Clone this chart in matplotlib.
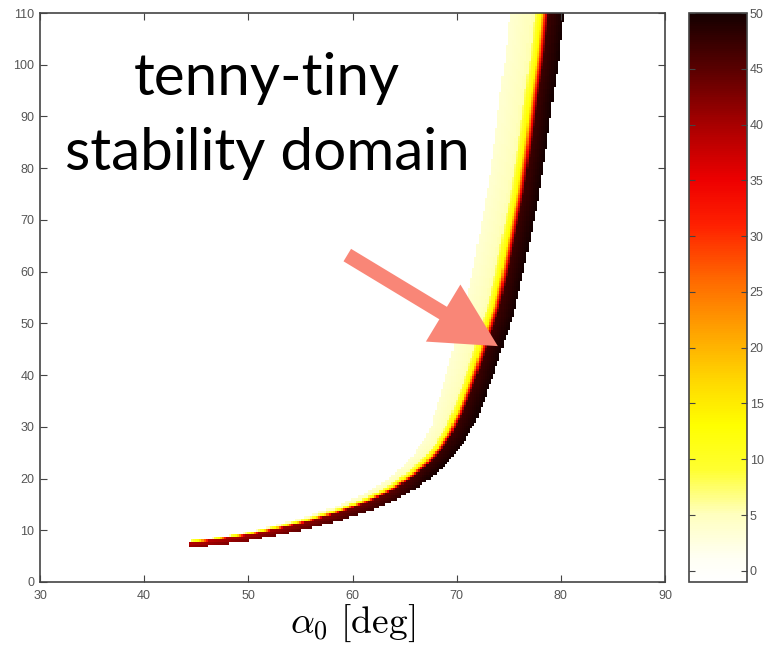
import matplotlib
matplotlib.use("Agg")
import matplotlib.pyplot as plt
import numpy as np
from matplotlib.colors import LinearSegmentedColormap
from matplotlib.patches import FancyArrowPatch

# ---------------------------------------------------------------------------
# Outer (lower-right) edge of the dark band (deg, deg)
# ---------------------------------------------------------------------------
EDGE_X = [44.3, 47.0, 50.0, 53.0, 56.0, 59.0, 62.0, 64.5, 66.5, 68.0, 69.5,
          70.7, 71.8, 72.8, 73.7, 74.5, 75.5, 76.3, 77.1, 77.9, 78.6, 79.2,
          79.8, 80.3, 80.9]
EDGE_Y = [6.6, 7.2, 8.0, 9.1, 10.4, 12.0, 14.0, 16.2, 18.6, 20.8, 23.8,
          27.0, 31.0, 36.0, 41.0, 46.0, 52.0, 59.0, 67.0, 75.0, 84.0, 93.0,
          101.0, 110.0, 120.0]

# thickness of each zone (screen px, measured across the band) at some heights
WIDTH_Y = [7, 12, 20, 30, 45, 70, 110]
DARK_W = [5, 8, 12, 15, 15, 15, 15]
TRANS_W = [2, 4, 8, 10, 12, 13, 14]
PALE_W = [0, 3, 9, 16, 21, 23, 25]
PEAK = [42, 46, 50, 50, 50, 50, 50]

X_TICKS = [30, 40, 50, 60, 70, 80, 90]
Y_TICKS = list(range(0, 111, 10))
CBAR_TICKS = list(range(0, 51, 5))

ANNOT_LINES = ["tenny-tiny", "stability domain"]
ARROW_TAIL = (59.5, 63.2)
ARROW_TIP = (73.95, 45.6)

# colour scale anchors (value, colour), sampled from the colour bar
CMAP_STOPS = [(-1, "#ffffff"), (1, "#fffff4"), (5, "#ffffbe"), (9, "#ffff30"),
              (13, "#ffff00"), (17, "#ffd800"), (21, "#ffa800"), (26, "#ff6a00"),
              (31, "#ff2000"), (35, "#ee0000"), (40, "#a80000"), (45, "#5a0000"),
              (50, "#150000")]
VMIN, VMAX = -1, 50

PX_X = 625 / 60.0   # screen px per deg on x
PX_Y = 569 / 110.0  # screen px per deg on y


def build_grid():
    xs = np.arange(30.0, 90.0001, 0.2)
    ys = np.arange(0.0, 110.0001, 0.5)
    gx, gy = np.meshgrid(xs, ys)
    px = gx.ravel() * PX_X
    py = gy.ravel() * PX_Y

    ax_ = np.array(EDGE_X[:-1]) * PX_X
    ay_ = np.array(EDGE_Y[:-1]) * PX_Y
    bx_ = np.array(EDGE_X[1:]) * PX_X
    by_ = np.array(EDGE_Y[1:]) * PX_Y
    dx, dy = bx_ - ax_, by_ - ay_
    seg_len2 = dx ** 2 + dy ** 2

    rx = px[:, None] - ax_[None, :]
    ry = py[:, None] - ay_[None, :]
    t = np.clip((rx * dx + ry * dy) / seg_len2, 0.0, 1.0)
    cx = ax_ + t * dx
    cy = ay_ + t * dy
    dist = np.hypot(px[:, None] - cx, py[:, None] - cy)
    k = np.argmin(dist, axis=1)
    idx = np.arange(len(px))
    d = dist[idx, k]
    cross = dx[k] * ry[idx, k] - dy[k] * rx[idx, k]
    t_k = t[idx, k]
    y_near = cy[idx, k] / PX_Y

    dark_w = np.interp(y_near, WIDTH_Y, DARK_W)
    trans_w = np.interp(y_near, WIDTH_Y, TRANS_W)
    pale_w = np.interp(y_near, WIDTH_Y, PALE_W)
    peak = np.interp(y_near, WIDTH_Y, PEAK)

    z = np.full(len(px), -1.0)
    inside = (cross > 0) & ~((k == 0) & (t_k <= 0.0))
    b1 = dark_w
    b2 = b1 + 0.5 * trans_w
    b3 = b1 + trans_w
    b4 = b3 + pale_w
    core = inside & (d <= b1)
    z[core] = peak[core] - 3.0 * d[core] / b1[core]
    ramp = inside & (d > b1) & (d <= b2)
    f = (d[ramp] - b1[ramp]) / (b2[ramp] - b1[ramp])
    z[ramp] = (peak[ramp] - 3.0) * (1 - f) + 15.0 * f
    yel = inside & (d > b2) & (d <= b3)
    f = (d[yel] - b2[yel]) / (b3[yel] - b2[yel])
    z[yel] = 14.0 * (1 - f) + 7.0 * f
    pale = inside & (d > b3) & (d <= b4)
    f = (d[pale] - b3[pale]) / np.maximum(pale_w[pale], 1e-6)
    z[pale] = 5.5 * (1 - f) + 3.5 * f
    return xs, ys, z.reshape(gx.shape)


def make_cmap():
    pos = [(v - VMIN) / (VMAX - VMIN) for v, _ in CMAP_STOPS]
    return LinearSegmentedColormap.from_list(
        "hot_rev", list(zip(pos, [c for _, c in CMAP_STOPS])), N=256
    )


def main():
    plt.rcParams.update({
        "font.family": ["Liberation Sans", "DejaVu Sans"],
        "mathtext.fontset": "cm",
    })
    fig = plt.figure(figsize=(7.69, 6.5), dpi=100)
    W, H = 769.0, 650.0
    ax = fig.add_axes([40 / W, 68 / H, 625 / W, 569 / H])
    cax = fig.add_axes([689 / W, 68 / H, 58 / W, 569 / H])

    xs, ys, z = build_grid()
    im = ax.imshow(
        z,
        origin="lower",
        extent=[xs[0] - 0.1, xs[-1] + 0.1, ys[0] - 0.25, ys[-1] + 0.25],
        aspect="auto",
        cmap=make_cmap(),
        vmin=VMIN,
        vmax=VMAX,
        interpolation="nearest",
    )
    ax.set_xlim(30, 90)
    ax.set_ylim(0, 110)
    ax.set_xticks(X_TICKS)
    ax.set_yticks(Y_TICKS)
    ax.tick_params(direction="in", top=True, right=True, length=5, width=0.8,
                   color="#444444", labelcolor="#555555", labelsize=9)
    ax.tick_params(axis="x", pad=6)
    ax.tick_params(axis="y", pad=4)
    for sp in ax.spines.values():
        sp.set_color("#444444")
        sp.set_linewidth(1.2)

    ax.set_xlabel(r"$\alpha_0\ [\mathrm{deg}]$", fontsize=27, labelpad=0)

    cb = fig.colorbar(im, cax=cax, ticks=CBAR_TICKS)
    cax.tick_params(direction="in", left=True, right=True, length=4, width=0.8,
                    color="#444444", labelcolor="#555555", labelsize=9, pad=2)
    cb.outline.set_edgecolor("#444444")
    cb.outline.set_linewidth(1.2)

    # annotation text + arrow
    fig.text(267 / W, 1 - 95 / H, ANNOT_LINES[0], ha="center", va="baseline",
             fontsize=42, family="Lato", color="black")
    fig.text(267 / W, 1 - 170 / H, ANNOT_LINES[1], ha="center", va="baseline",
             fontsize=42, family="Lato", color="black")

    arrow = FancyArrowPatch(
        ARROW_TAIL, ARROW_TIP,
        arrowstyle="simple,head_length=4.6,head_width=4.8,tail_width=1.05",
        mutation_scale=10,
        shrinkA=0, shrinkB=0,
        color="#F98677",
        linewidth=0,
        zorder=5,
    )
    ax.add_patch(arrow)

    fig.savefig("out.png", dpi=100)
    plt.close(fig)


if __name__ == "__main__":
    main()
